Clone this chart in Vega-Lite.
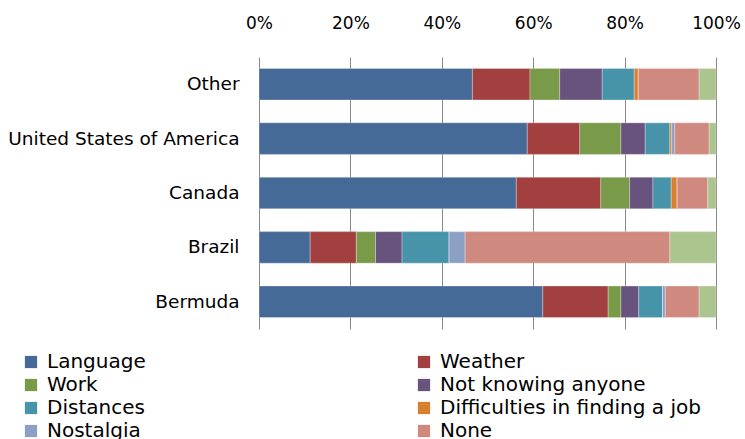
{
  "$schema": "https://vega.github.io/schema/vega-lite/v6.json",
  "autosize": {"type": "none"},
  "width": 457,
  "height": 272,
  "padding": {"left": 259, "top": 57, "right": 29, "bottom": 110},
  "background": "white",
  "config": {
    "view": {"stroke": null},
    "font": "DejaVu Sans"
  },
  "data": {
    "values": [
      {"country": "Other", "reason": "Language", "k": 1, "pct": 46.7},
      {"country": "Other", "reason": "Weather", "k": 2, "pct": 12.6},
      {"country": "Other", "reason": "Work", "k": 3, "pct": 6.5},
      {"country": "Other", "reason": "Not knowing anyone", "k": 4, "pct": 9.3},
      {"country": "Other", "reason": "Distances", "k": 5, "pct": 7.0},
      {"country": "Other", "reason": "Difficulties in finding a job", "k": 6, "pct": 0.9},
      {"country": "Other", "reason": "Nostalgia", "k": 7, "pct": 0},
      {"country": "Other", "reason": "None", "k": 8, "pct": 13.3},
      {"country": "Other", "reason": "Other", "k": 9, "pct": 3.7},

      {"country": "United States of America", "reason": "Language", "k": 1, "pct": 58.7},
      {"country": "United States of America", "reason": "Weather", "k": 2, "pct": 11.5},
      {"country": "United States of America", "reason": "Work", "k": 3, "pct": 9.0},
      {"country": "United States of America", "reason": "Not knowing anyone", "k": 4, "pct": 5.3},
      {"country": "United States of America", "reason": "Distances", "k": 5, "pct": 5.4},
      {"country": "United States of America", "reason": "Difficulties in finding a job", "k": 6, "pct": 0.4},
      {"country": "United States of America", "reason": "Nostalgia", "k": 7, "pct": 0.7},
      {"country": "United States of America", "reason": "None", "k": 8, "pct": 7.5},
      {"country": "United States of America", "reason": "Other", "k": 9, "pct": 1.5},

      {"country": "Canada", "reason": "Language", "k": 1, "pct": 56.3},
      {"country": "Canada", "reason": "Weather", "k": 2, "pct": 18.5},
      {"country": "Canada", "reason": "Work", "k": 3, "pct": 6.3},
      {"country": "Canada", "reason": "Not knowing anyone", "k": 4, "pct": 5.1},
      {"country": "Canada", "reason": "Distances", "k": 5, "pct": 4.0},
      {"country": "Canada", "reason": "Difficulties in finding a job", "k": 6, "pct": 1.3},
      {"country": "Canada", "reason": "Nostalgia", "k": 7, "pct": 0},
      {"country": "Canada", "reason": "None", "k": 8, "pct": 6.7},
      {"country": "Canada", "reason": "Other", "k": 9, "pct": 1.8},

      {"country": "Brazil", "reason": "Language", "k": 1, "pct": 11.2},
      {"country": "Brazil", "reason": "Weather", "k": 2, "pct": 10.1},
      {"country": "Brazil", "reason": "Work", "k": 3, "pct": 4.2},
      {"country": "Brazil", "reason": "Not knowing anyone", "k": 4, "pct": 5.8},
      {"country": "Brazil", "reason": "Distances", "k": 5, "pct": 10.3},
      {"country": "Brazil", "reason": "Difficulties in finding a job", "k": 6, "pct": 0},
      {"country": "Brazil", "reason": "Nostalgia", "k": 7, "pct": 3.5},
      {"country": "Brazil", "reason": "None", "k": 8, "pct": 44.8},
      {"country": "Brazil", "reason": "Other", "k": 9, "pct": 10.1},

      {"country": "Bermuda", "reason": "Language", "k": 1, "pct": 62.1},
      {"country": "Bermuda", "reason": "Weather", "k": 2, "pct": 14.3},
      {"country": "Bermuda", "reason": "Work", "k": 3, "pct": 2.8},
      {"country": "Bermuda", "reason": "Not knowing anyone", "k": 4, "pct": 3.9},
      {"country": "Bermuda", "reason": "Distances", "k": 5, "pct": 5.2},
      {"country": "Bermuda", "reason": "Difficulties in finding a job", "k": 6, "pct": 0},
      {"country": "Bermuda", "reason": "Nostalgia", "k": 7, "pct": 0.6},
      {"country": "Bermuda", "reason": "None", "k": 8, "pct": 7.4},
      {"country": "Bermuda", "reason": "Other", "k": 9, "pct": 3.7}
    ]
  },
  "mark": {"type": "bar", "stroke": "white", "strokeWidth": 0.5, "strokeOpacity": 0.6},
  "encoding": {
    "y": {
      "field": "country",
      "type": "nominal",
      "sort": ["Other", "United States of America", "Canada", "Brazil", "Bermuda"],
      "scale": {"paddingInner": 0.42, "paddingOuter": 0.21},
      "axis": {
        "title": null,
        "domain": false,
        "ticks": false,
        "labelFontSize": 18.5,
        "labelColor": "#000000",
        "labelPadding": 20,
        "labelLimit": 300
      }
    },
    "x": {
      "field": "pct",
      "type": "quantitative",
      "stack": "normalize",
      "scale": {"domain": [0, 1], "nice": false},
      "axis": {
        "orient": "top",
        "title": null,
        "format": "%",
        "values": [0, 0.2, 0.4, 0.6, 0.8, 1],
        "domain": false,
        "ticks": false,
        "grid": true,
        "gridColor": "#888888",
        "gridWidth": 1,
        "labelFontSize": 17,
        "labelColor": "#000000",
        "labelPadding": 25,
        "labelFlush": false
      }
    },
    "color": {
      "field": "reason",
      "type": "nominal",
      "scale": {
        "domain": ["Language", "Weather", "Work", "Not knowing anyone", "Distances", "Difficulties in finding a job", "Nostalgia", "None", "Other"],
        "range": ["#466A98", "#A23F3F", "#789A49", "#68527E", "#4793AA", "#D9802F", "#8CA0C6", "#D0897F", "#ACC58E"]
      },
      "legend": {
        "title": null,
        "orient": "none",
        "legendX": -238,
        "legendY": 295,
        "columns": 2,
        "direction": "horizontal",
        "columnPadding": 268,
        "rowPadding": 3,
        "symbolType": "square",
        "symbolSize": 150,
        "symbolStrokeWidth": 0,
        "labelFontSize": 20,
        "labelColor": "#000000",
        "labelOffset": 6,
        "labelLimit": 400
      }
    },
    "order": {"field": "k", "type": "quantitative"}
  }
}
